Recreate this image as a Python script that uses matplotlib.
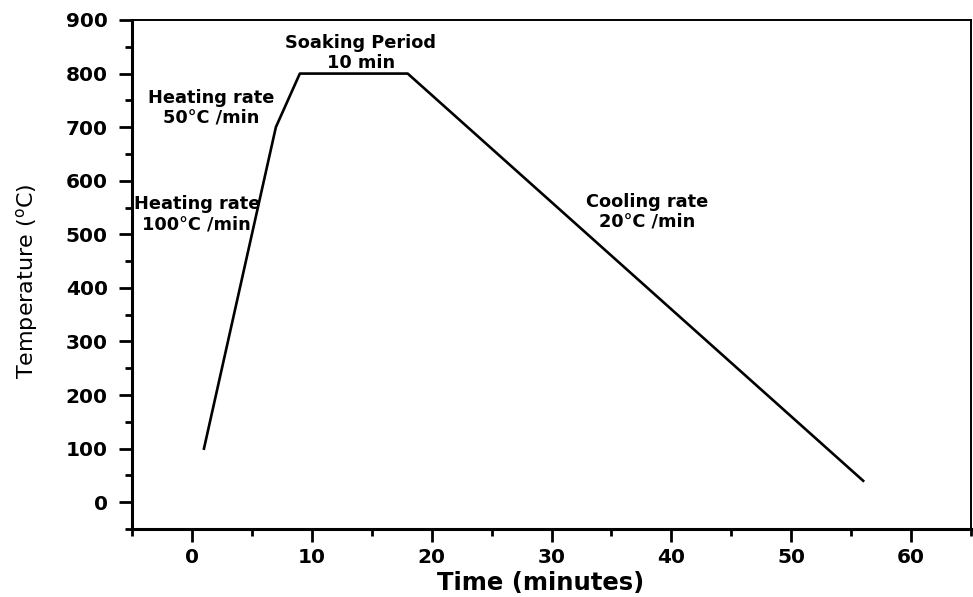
import matplotlib.pyplot as plt
from matplotlib.ticker import MultipleLocator

plt.rcParams['font.family'] = ['DejaVu Sans']

# furnace schedule
time_min = [1, 7, 9, 18, 56]
temp_c = [100, 700, 800, 800, 40]

notes = ["Heating rate\n100°C /min", "Heating rate\n50°C /min",
         "Soaking Period\n10 min", "Cooling rate\n20°C /min"]
note_x = [0.4, 1.6, 14.1, 38.0]
note_y = [538, 736, 838, 542]

fig = plt.figure(figsize=(9.73, 5.97), dpi=100)
ax = fig.add_axes([0.1357, 0.1139, 0.8623, 0.8526])

ax.plot(time_min, temp_c, color='black', lw=1.9)
for s, x, y in zip(notes, note_x, note_y):
    ax.text(x, y, s, ha='center', va='center', fontsize=12.8,
            fontweight='bold', linespacing=1.15)

ax.set_xlim(-5, 65)
ax.set_ylim(-50, 900)
ax.xaxis.set_major_locator(MultipleLocator(10))
ax.xaxis.set_minor_locator(MultipleLocator(5))
ax.yaxis.set_major_locator(MultipleLocator(100))
ax.yaxis.set_minor_locator(MultipleLocator(50))

ax.tick_params(which='major', direction='out', length=9.5, width=2, labelsize=14.5, pad=4)
ax.tick_params(which='minor', direction='out', length=5, width=2)
ax.tick_params(axis='y', which='major', pad=8)
for lab in ax.get_xticklabels() + ax.get_yticklabels():
    lab.set_fontweight('bold')

for side in ['left', 'bottom']:
    ax.spines[side].set_linewidth(2.2)
for side in ['top', 'right']:
    ax.spines[side].set_linewidth(1.4)

ax.set_xlabel('Time (minutes)', fontsize=17.5, fontweight='bold', va='center')
ax.xaxis.set_label_coords(0.4875, -0.106)
ax.set_ylabel('Temperature ($^\\mathregular{o}$C)', fontsize=16, va='center')
ax.yaxis.set_label_coords(-0.125, 0.487)

fig.savefig('out.png', dpi=100)
